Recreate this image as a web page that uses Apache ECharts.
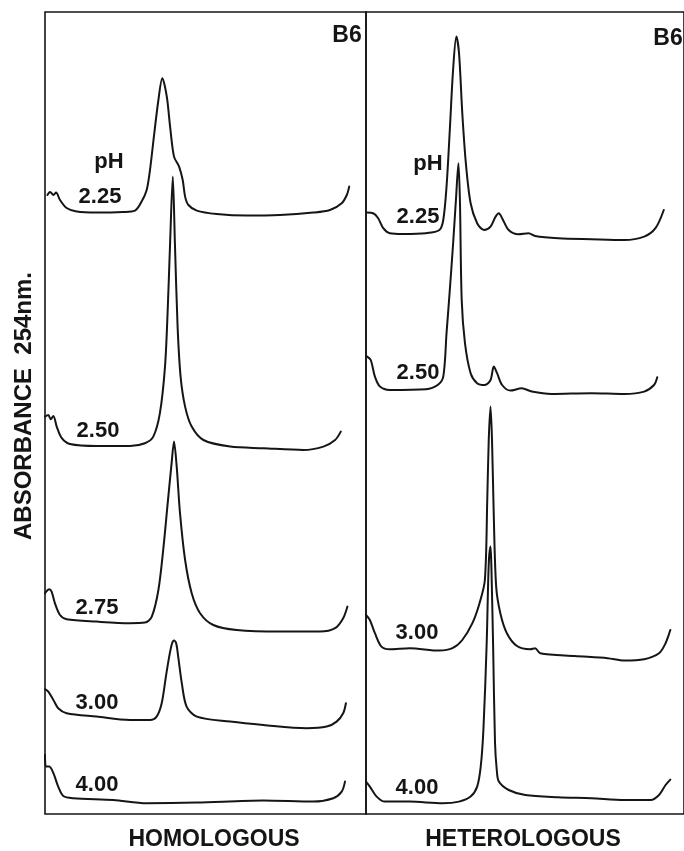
<!DOCTYPE html>
<html>
<head>
<meta charset="utf-8">
<script src="https://cdn.jsdelivr.net/npm/echarts@6/dist/echarts.min.js"></script>
<style>
  html, body { margin: 0; padding: 0; background: #ffffff; }
  #chart { width: 684px; height: 851px; }
</style>
</head>
<body>
<div id="chart"></div>
<script>
// Stacked recorder traces, B6 at several elution pH values.
// x: elution position (chart divisions), y: recorder deflection (chart divisions, stacked).

const homologousPH = ['2.25', '2.50', '2.75', '3.00', '4.00'];
const heterologousPH = ['2.25', '2.50', '3.00', '4.00'];

// Homologous column
const homo225 = [[0.8,309.5],[1.7,311],[2.8,309.5],[3.7,310.7],[5,307],[7.2,303],[10.6,301.2],[17.2,300.7],[26,301],[30,301.7],[32.2,306.2],[33.9,312],[35,322],[36.3,338.7],[37.8,357],[39.1,367.9],[40.6,358.7],[41.7,343.7],[43,328.7],[44.7,323.7],[45.9,317],[46.7,308.7],[47.8,304.5],[50.6,301.7],[57.2,300],[67.2,299.2],[78.3,299.5],[89.4,300.7],[95,302],[98.9,305.4],[100.6,309.5],[101.4,313.7]];
const homo250 = [[0,198.7],[1.1,199.5],[1.9,197.4],[2.8,199],[3.9,193.7],[5.6,187.9],[8.3,185],[17.2,184],[28.3,184],[33.3,185.4],[36.1,188.7],[38.3,200.4],[40,223.7],[40.9,252],[41.7,285.5],[42.6,318.7],[43.3,285.5],[44.2,243.7],[45.2,218.7],[46.7,203.7],[48.9,193.7],[52.8,187],[61.7,183.7],[72.8,182.9],[86.1,182],[92.8,183.7],[96.7,187],[98.6,191.2]];
const homo275 = [[0,110.4],[1.4,112.4],[2.2,111.2],[3.3,105.4],[5,99.5],[7.2,97.4],[17.2,96.2],[28.3,95.4],[33.3,95.7],[35.6,98.7],[37.8,112],[39.4,132],[40.9,155.4],[42.2,175.4],[43,186.2],[43.9,173.7],[45,150.4],[46.7,127],[48.9,110.4],[51.7,100.4],[56.1,94.5],[63.9,92],[78.3,91.2],[91.7,91.2],[96.7,92.9],[99.4,97.9],[100.8,103.7]];
const homo300 = [[0,62.4],[1.1,61.2],[2.8,57],[4.4,52.9],[7.2,50.4],[17.2,48.7],[28.3,47],[35,47],[37.2,48.7],[38.9,55.4],[40.3,68.7],[41.4,78.7],[42.3,85],[43,86.7],[43.7,85.5],[44.4,78.7],[45.6,65.4],[47.2,53.7],[50.6,48.7],[61.7,46.2],[72.8,44.5],[87.2,42.9],[93.9,43.7],[97.2,46.2],[99.4,50.4],[100.3,55.4]];
const homo400 = [[0,29.5],[0.3,23.7],[1.4,23.7],[2.8,20.4],[4.4,13.7],[6.1,9],[9.4,7.9],[22.8,7],[33.9,5.4],[50.6,5.7],[72.8,6.7],[89.4,6.2],[96.1,7.9],[98.9,11.2],[100,16.2]];

// Heterologous column
const hetero225 = [[0.4,300.7],[2.4,300.4],[4.1,297.9],[5.8,292.9],[8,290.4],[12.4,290],[20.2,290.4],[24.7,292],[26,297],[27.1,313.7],[28.2,342],[29.3,372],[30.4,388.7],[31.3,380.4],[32.4,350.4],[33.6,325.4],[35.2,305.4],[37.4,295.4],[39.7,292],[41.9,293.7],[43.6,298.7],[44.7,300.4],[45.8,297.9],[48,292],[51.3,289.9],[54.7,290.4],[56.9,289],[64.7,287.9],[75.8,287.4],[86.9,287],[93.6,288.7],[97.4,292.9],[100.2,302]];
const hetero250 = [[0.4,228.7],[1.6,227],[3,218.7],[4.7,213.7],[8,212],[20.2,212.4],[24.1,214.5],[26,218.7],[27.1,240.4],[28.2,262],[29.3,285],[30.3,308],[31.1,325.4],[31.6,307],[32.2,257],[33.3,235.4],[35.2,220.4],[37.4,215.4],[40,214.5],[41.9,217],[43,223.7],[44.1,220.4],[45.8,214.5],[48.6,211.7],[52.4,212.9],[55.8,211.2],[62.4,210],[75.8,210.4],[86.9,210],[93.6,211.2],[96.9,214.5],[98,218.4]];
const hetero300 = [[0,99.5],[1.3,97],[3,90.4],[5.2,83.7],[8,82.4],[14.7,82.9],[24.7,81.7],[29.1,82.9],[32.4,87],[35.8,95.4],[38.2,105.4],[40,117],[40.8,157],[41.3,187],[41.9,203.7],[42.4,187],[43,148.7],[43.8,113.7],[45.2,100.4],[47.4,90.4],[50.8,84],[55.2,82.4],[56.9,82.9],[58.6,80.4],[70.2,79],[81.3,77.9],[86.9,76.7],[93.6,77.4],[98.6,80.4],[100.8,85.4],[102.4,92]];
const hetero400 = [[0,16.2],[1.3,13.7],[3.6,8.7],[6.3,6.2],[14.7,6.2],[25.8,5.4],[31.3,6.2],[35.2,8.7],[37.4,13.7],[38.6,23.7],[39.5,42],[40.6,85],[41.3,125],[41.9,133.7],[42.2,123],[42.8,82],[43.4,36],[44,22],[44.7,16.2],[48,12],[53.6,9.5],[64.7,8.4],[75.8,7.9],[86.9,7],[95.8,7],[98.6,9.5],[100.8,14.5],[102.4,17.2]];

const homoTraces = [homo225, homo250, homo275, homo300, homo400];
const heteroTraces = [hetero225, hetero250, hetero300, hetero400];

const INK = '#151515';
const FONT = '"Liberation Sans", Arial, sans-serif';

// anchor points (px) for the pH tag of each trace
const homoLabelPos = [[100,197],[98,431],[97,608],[97,703],[97,785]];
const heteroLabelPos = [[418,217],[418,373],[417,633],[417,788]];

function hiddenAxis(extra) {
  return Object.assign({
    type: 'value',
    axisLine: { show: false },
    axisTick: { show: false },
    axisLabel: { show: false },
    splitLine: { show: false }
  }, extra);
}

function traceSeries(data, axisIndex) {
  return {
    type: 'line',
    xAxisIndex: axisIndex,
    yAxisIndex: axisIndex,
    data: data,
    showSymbol: false,
    smooth: 0.3,
    lineStyle: { color: INK, width: 2, join: 'round', cap: 'round' },
    silent: true,
    animation: false
  };
}

function label(text, x, y, size) {
  return {
    type: 'text',
    x: x, y: y,
    silent: true,
    style: {
      text: text,
      fill: INK,
      font: 'bold ' + size + 'px ' + FONT,
      textAlign: 'center',
      textVerticalAlign: 'middle'
    }
  };
}

const chart = echarts.init(document.getElementById('chart'), null, { renderer: 'canvas' });

const g = [];
homologousPH.forEach(function (t, i) { g.push(label(t, homoLabelPos[i][0], homoLabelPos[i][1], 22)); });
heterologousPH.forEach(function (t, i) { g.push(label(t, heteroLabelPos[i][0], heteroLabelPos[i][1], 22)); });
g.push(label('pH', 109, 162, 22));
g.push(label('pH', 428, 164, 22));
g.push(label('B6', 347, 36, 23));
g.push(label('B6', 668, 39, 23));
g.push(label('HOMOLOGOUS', 214, 840, 23));
g.push(label('HETEROLOGOUS', 523, 840, 23));
const yTitle = label('ABSORBANCE  254nm.', 24, 406, 24);
yTitle.rotation = Math.PI / 2;
g.push(yTitle);

const series = [];
homoTraces.forEach(function (d) { series.push(traceSeries(d, 0)); });
heteroTraces.forEach(function (d) { series.push(traceSeries(d, 1)); });

chart.setOption({
  backgroundColor: '#ffffff',
  animation: false,
  grid: [
    { left: 45, top: 12, width: 321, height: 802, show: true, borderColor: INK, borderWidth: 1.6, backgroundColor: 'transparent' },
    { left: 366, top: 12, width: 321, height: 802, show: true, borderColor: INK, borderWidth: 1.6, backgroundColor: 'transparent' }
  ],
  xAxis: [
    hiddenAxis({ gridIndex: 0, min: 0, max: 107 }),
    hiddenAxis({ gridIndex: 1, min: 0, max: 107 })
  ],
  yAxis: [
    hiddenAxis({ gridIndex: 0, min: 0, max: 401 }),
    hiddenAxis({ gridIndex: 1, min: 0, max: 401 })
  ],
  series: series,
  graphic: g
});
</script>
</body>
</html>
